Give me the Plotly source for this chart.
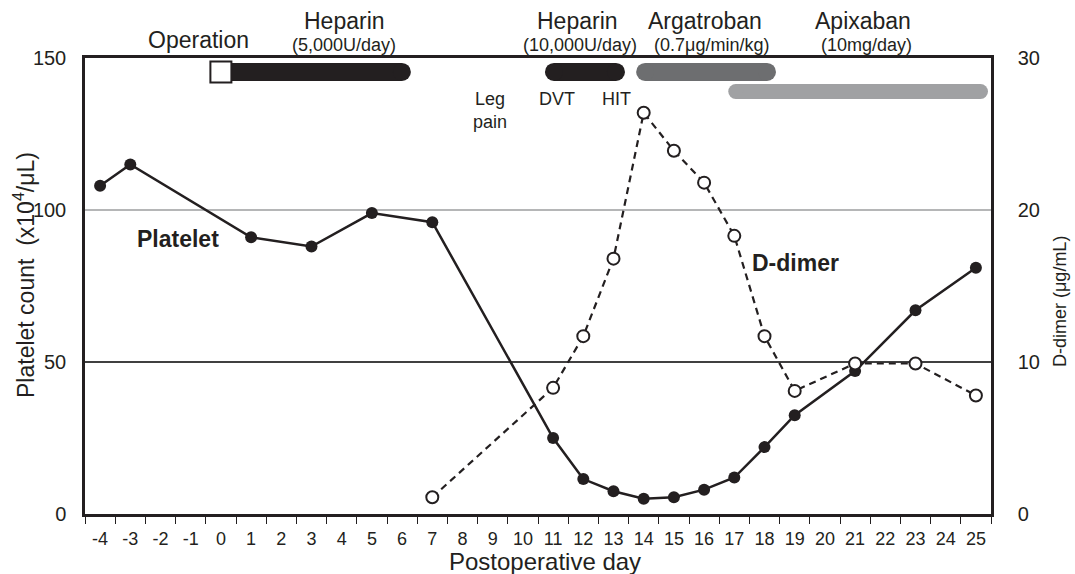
import plotly.graph_objects as go

# ---------------- data ----------------
days_platelet = [-4, -3, 1, 3, 5, 7, 11, 12, 13, 14, 15, 16, 17, 18, 19, 21, 23, 25]
platelet = [108, 115, 91, 88, 99, 96, 25, 11.5, 7.5, 5, 5.5, 8, 12, 22, 32.5, 47, 67, 81]

days_ddimer = [7, 11, 12, 13, 14, 15, 16, 17, 18, 19, 21, 23, 25]
ddimer = [1.1, 8.3, 11.7, 16.8, 26.4, 23.9, 21.8, 18.3, 11.7, 8.1, 9.9, 9.9, 7.8]

x_ticks = list(range(-4, 26))

# treatment periods (postoperative days)
treat_names = ["Heparin 5,000U/day", "Heparin 10,000U/day", "Argatroban", "Apixaban"]
treat_start = [0.0, 10.73, 13.75, 16.8]
treat_end = [6.29, 13.38, 18.38, 25.4]
treat_colors = ["#231f20", "#231f20", "#6d6e70", "#a0a1a3"]
treat_row = [0, 0, 0, 1]
operation_day = 0

FONT = "Liberation Sans, Arial, sans-serif"
NARROW = "Liberation Sans Narrow, Liberation Sans, Arial, sans-serif"
INK = "#231f20"

W, H = 1075, 574
ML, MR, MT, MB = 85, 84, 58, 60
XR = [-4.5, 25.5]
YR = [0, 150]
PW = W - ML - MR
PH = H - MT - MB
px_per_day = PW / (XR[1] - XR[0])
row_level = [145.4, 139.0]
row_width = [18, 15]

fig = go.Figure()

# treatment bars (rounded ends via circle markers)
for i in range(len(treat_names)):
    w = row_width[treat_row[i]]
    r = (w / 2) / px_per_day
    y = row_level[treat_row[i]]
    x0 = treat_start[i] if i == 0 else treat_start[i] + r
    x1 = treat_end[i] - r
    fig.add_trace(go.Scatter(x=[x0, x1], y=[y, y], mode="lines", line=dict(color=treat_colors[i], width=w),
                             hoverinfo="skip", showlegend=False))
    mx = [x1] if i == 0 else [x0, x1]
    fig.add_trace(go.Scatter(x=mx, y=[y] * len(mx), mode="markers",
                             marker=dict(color=treat_colors[i], size=w, line=dict(width=0)),
                             hoverinfo="skip", showlegend=False))

# operation box
fig.add_trace(go.Scatter(x=[operation_day], y=[row_level[0]], mode="markers",
                         marker=dict(symbol="square", size=21, color="white", line=dict(color=INK, width=2)),
                         hoverinfo="skip", showlegend=False))

# D-dimer
fig.add_trace(go.Scatter(x=days_ddimer, y=ddimer, yaxis="y2", mode="lines+markers",
                         line=dict(color=INK, width=2.2, dash="7px,5px"),
                         marker=dict(symbol="circle", size=12, color="white", line=dict(color=INK, width=2)),
                         showlegend=False))
# Platelet
fig.add_trace(go.Scatter(x=days_platelet, y=platelet, mode="lines+markers",
                         line=dict(color=INK, width=2.5),
                         marker=dict(symbol="circle", size=12, color=INK),
                         showlegend=False))

# reference lines
fig.add_shape(type="line", xref="paper", x0=0, x1=1, y0=100, y1=100, line=dict(color="#6d6e70", width=1.2), layer="below")
fig.add_shape(type="line", xref="paper", x0=0, x1=1, y0=50, y1=50, line=dict(color="#000000", width=1.3), layer="below")

ann = []
def px2x(p):
    return (p - ML) / PW

def px2y(p):
    return 1 - (p - MT) / PH

def txt(px, py, s, size, bold=False, angle=0):
    ann.append(dict(x=px2x(px), y=px2y(py), xref="paper", yref="paper",
                    text=("<b>%s</b>" % s) if bold else s, showarrow=False, textangle=angle,
                    font=dict(family=FONT, size=size, color=INK), xanchor="center", yanchor="middle"))

txt(198, 40, "Operation", 23)
txt(344, 21, "Heparin", 23)
txt(344, 45, "(5,000U/day)", 18)
txt(577, 21, "Heparin", 23)
txt(580, 45, "(10,000U/day)", 18)
txt(705, 21, "Argatroban", 23)
txt(711, 45, "(0.7μg/min/kg)", 18)
txt(863, 21, "Apixaban", 23)
txt(866, 45, "(10mg/day)", 18)
txt(490, 110, "Leg<br>pain", 18)
txt(557, 99, "DVT", 18)
txt(616, 99, "HIT", 18)
txt(178, 239, "Platelet", 23, bold=True)
txt(795, 263, "D-dimer", 23, bold=True)
# axis titles
txt(24, 275, "Platelet count &nbsp;(x10<sup>4</sup>/μL)", 23, angle=-90)
txt(1060, 302, "D-dimer (μg/mL)", 18, angle=-90)
txt(545, 561, "Postoperative day", 24)

fig.update_layout(
    width=W, height=H, margin=dict(l=ML, r=MR, t=MT, b=MB, autoexpand=False),
    plot_bgcolor="white", paper_bgcolor="white", showlegend=False,
    annotations=ann,
    font=dict(family=FONT, color=INK),
    xaxis=dict(range=XR, tickvals=x_ticks, ticktext=[str(v) for v in x_ticks], ticks="",
               tickfont=dict(family=NARROW, size=18, color=INK), ticklabelstandoff=7,
               minor=dict(tick0=-4.5, dtick=1, ticks="outside", ticklen=7, tickcolor=INK, tickwidth=1, showgrid=False),
               showline=True, linecolor=INK, linewidth=2.5, mirror=True, showgrid=False, zeroline=False,
               automargin=False),
    yaxis=dict(range=YR, tickvals=[0, 50, 100, 150], ticks="",
               tickfont=dict(size=20, color=INK), ticklabelstandoff=12, showline=True, linecolor=INK, linewidth=2.5,
               showgrid=False, zeroline=False, automargin=False),
    yaxis2=dict(range=[0, 30], overlaying="y", side="right", tickvals=[0, 10, 20, 30], ticks="",
                tickfont=dict(size=20, color=INK), ticklabelstandoff=20, showline=True, linecolor=INK, linewidth=2.5,
                showgrid=False, zeroline=False, automargin=False),
)

fig.write_html("out.html", config={"displayModeBar": False},
               post_script="document.body.style.margin='0';document.body.style.overflow='hidden';")
